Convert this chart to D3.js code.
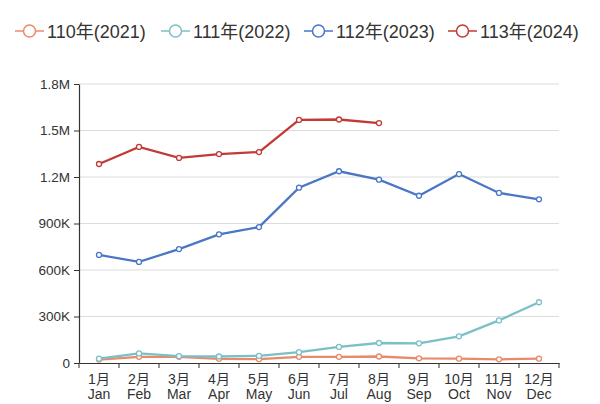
<!DOCTYPE html>
<html>
<head>
<meta charset="utf-8">
<script src="https://cdn.jsdelivr.net/npm/d3@7"></script>
<style>
body { margin: 0; background: #fff; }
text { font-family: "Liberation Sans", Arial, "Noto Sans CJK SC", sans-serif; }
</style>
</head>
<body>
<svg id="chart"></svg>
<script>
var monthsZh = ["1月","2月","3月","4月","5月","6月","7月","8月","9月","10月","11月","12月"];
var monthsEn = ["Jan","Feb","Mar","Apr","May","Jun","Jul","Aug","Sep","Oct","Nov","Dec"];
var seriesNames = ["110年(2021)","111年(2022)","112年(2023)","113年(2024)"];
var seriesColors = ["#e98a6b","#7cc0c7","#4a76c6","#c23a35"];

var y2021 = [22000,40000,40000,27000,25000,40000,40000,42000,30000,28000,24000,28000];
var y2022 = [28000,62000,45000,42000,46000,70000,104000,129000,127000,172000,275000,392000];
var y2023 = [697000,652000,735000,830000,877000,1131000,1237000,1183000,1079000,1219000,1097000,1056000];
var y2024 = [1284000,1394000,1323000,1348000,1361000,1568000,1571000,1548000];

var yTicks = [0,300000,600000,900000,1200000,1500000,1800000];
var yTickLabels = ["0","300K","600K","900K","1.2M","1.5M","1.8M"];

var allSeries = [y2021, y2022, y2023, y2024];

var width = 600, height = 404;
var plotLeft = 79, plotRight = 559, plotTop = 84, plotBottom = 363;

var svg = d3.select("#chart")
    .attr("width", width)
    .attr("height", height);

var xScale = d3.scaleBand()
    .domain(d3.range(12))
    .range([plotLeft, plotRight]);

var yScale = d3.scaleLinear()
    .domain([0, 1800000])
    .range([plotBottom, plotTop]);

var xMid = function(i) { return xScale(i) + xScale.bandwidth() / 2; };

// grid lines
svg.append("g")
    .selectAll("line")
    .data(yTicks.slice(1))
    .enter()
    .append("line")
    .attr("x1", plotLeft)
    .attr("x2", plotRight)
    .attr("y1", function(d) { return yScale(d); })
    .attr("y2", function(d) { return yScale(d); })
    .attr("stroke", "#dcdcdc")
    .attr("stroke-width", 1);

// y axis
var yAxis = d3.axisLeft(yScale)
    .tickValues(yTicks)
    .tickFormat(function(d, i) { return yTickLabels[i]; })
    .tickSizeInner(5)
    .tickSizeOuter(0)
    .tickPadding(4);

var yg = svg.append("g")
    .attr("transform", "translate(" + plotLeft + ",0)")
    .call(yAxis);
yg.select(".domain").attr("stroke", "#333").attr("stroke-width", 1.2);
yg.selectAll(".tick line").attr("stroke", "#333");
yg.selectAll(".tick text")
    .attr("fill", "#333")
    .style("font-size", "13.5px");

// x axis
var xAxis = d3.axisBottom(xScale)
    .tickSize(0)
    .tickFormat("");

var xg = svg.append("g")
    .attr("transform", "translate(0," + plotBottom + ")")
    .call(xAxis);
xg.select(".domain").attr("stroke", "#333").attr("stroke-width", 1.2);

xg.selectAll(".bound")
    .data(d3.range(13))
    .enter()
    .append("line")
    .attr("x1", function(d) { return plotLeft + d * xScale.step(); })
    .attr("x2", function(d) { return plotLeft + d * xScale.step(); })
    .attr("y1", 0)
    .attr("y2", 5)
    .attr("stroke", "#333");

var labels = svg.append("g");
labels.selectAll(".zh")
    .data(monthsZh)
    .enter()
    .append("text")
    .attr("x", function(d, i) { return xMid(i); })
    .attr("y", 384)
    .attr("text-anchor", "middle")
    .attr("fill", "#333")
    .style("font-size", "14px")
    .text(function(d) { return d; });
labels.selectAll(".en")
    .data(monthsEn)
    .enter()
    .append("text")
    .attr("x", function(d, i) { return xMid(i); })
    .attr("y", 399)
    .attr("text-anchor", "middle")
    .attr("fill", "#333")
    .style("font-size", "14px")
    .text(function(d) { return d; });

// lines
var line = d3.line()
    .x(function(d, i) { return xMid(i); })
    .y(function(d) { return yScale(d); });

allSeries.forEach(function(s, k) {
    svg.append("path")
        .datum(s)
        .attr("d", line)
        .attr("fill", "none")
        .attr("stroke", seriesColors[k])
        .attr("stroke-width", 2.3);
    svg.append("g")
        .selectAll("circle")
        .data(s)
        .enter()
        .append("circle")
        .attr("cx", function(d, i) { return xMid(i); })
        .attr("cy", function(d) { return yScale(d); })
        .attr("r", 2.5)
        .attr("fill", "#fff")
        .attr("stroke", seriesColors[k])
        .attr("stroke-width", 1.3);
});

// legend
var legendX = [15, 161, 304, 448];
var legend = svg.append("g");
seriesNames.forEach(function(name, k) {
    var g = legend.append("g").attr("transform", "translate(" + legendX[k] + ",31)");
    g.append("line")
        .attr("x1", 0).attr("x2", 29)
        .attr("y1", 0).attr("y2", 0)
        .attr("stroke", seriesColors[k])
        .attr("stroke-width", 1.5);
    g.append("circle")
        .attr("cx", 14.5).attr("cy", 0).attr("r", 6)
        .attr("fill", "#fff")
        .attr("stroke", seriesColors[k])
        .attr("stroke-width", 1.5);
    g.append("text")
        .attr("x", 32)
        .attr("y", 6.5)
        .attr("fill", "#333")
        .style("font-size", "18px")
        .text(name);
});
</script>
</body>
</html>
